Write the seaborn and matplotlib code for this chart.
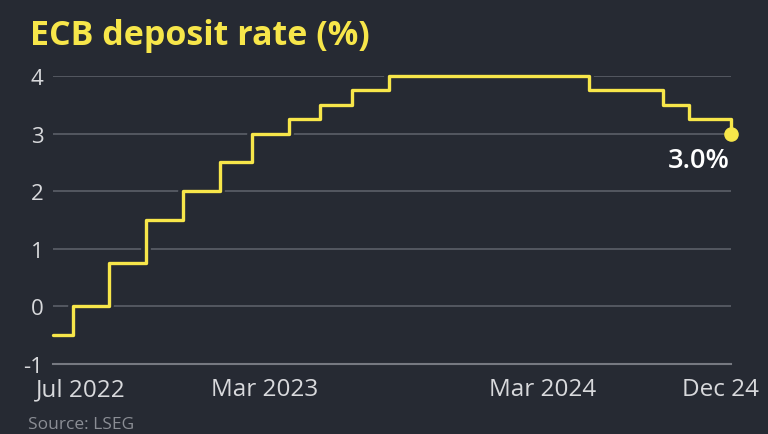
import matplotlib
matplotlib.use('Agg')
import matplotlib.pyplot as plt
import matplotlib.dates as mdates
import matplotlib.patheffects as pe
import matplotlib.transforms as mtransforms
import seaborn as sns
import pandas as pd

# ECB deposit facility rate, dates of change
change_dates = ['2022-07-01', '2022-07-27', '2022-09-14', '2022-11-02', '2022-12-21',
                '2023-02-08', '2023-03-22', '2023-05-10', '2023-06-21', '2023-08-02',
                '2023-09-20', '2024-06-12', '2024-09-18', '2024-10-23', '2024-12-18']
rates = [-0.5, 0.0, 0.75, 1.5, 2.0, 2.5, 3.0, 3.25, 3.5, 3.75, 4.0, 3.75, 3.5, 3.25, 3.0]
tick_dates = ['2022-07-01', '2023-03-01', '2024-03-01', '2024-12-01']
tick_labels = ['Jul 2022', 'Mar 2023', 'Mar 2024', 'Dec 24']
y_ticks = [-1, 0, 1, 2, 3, 4]

df = pd.DataFrame({'date': pd.to_datetime(change_dates), 'rate': rates})

bg = '#262a33'
yellow = '#f7e64a'
grid_c = '#5c5f68'
text_c = '#d8d9dc'

sns.set_style('dark')
plt.rcParams['font.family'] = ['Open Sans', 'DejaVu Sans']

fig = plt.figure(figsize=(7.68, 4.35), dpi=100, facecolor=bg)
ax = fig.add_axes([53/768, 1 - 365/435, (731 - 53)/768, (365 - 77)/435])
ax.set_facecolor(bg)

for y in y_ticks[1:]:
    ax.axhline(y, color=grid_c, lw=1.2, zorder=1)

sns.lineplot(data=df, x='date', y='rate', drawstyle='steps-post', color=yellow,
             lw=2.4, ax=ax, zorder=3, clip_on=False,
             path_effects=[pe.Stroke(linewidth=7, foreground=bg), pe.Normal()])
last = df.iloc[-1]
ax.scatter([last['date']], [last['rate']], s=90, color=yellow, zorder=4, clip_on=False)
ax.annotate(f"{last['rate']:.1f}%", (last['date'], last['rate']), xytext=(-1, -9),
            textcoords='offset points', ha='right', va='top', color='white',
            fontsize=19.5, fontweight='semibold')

ax.set_xlim(pd.Timestamp(change_dates[0]), pd.Timestamp(change_dates[-1]))
ax.set_ylim(-1, 4)
ax.set_yticks(y_ticks)
ax.set_yticklabels([str(v) for v in y_ticks])
ax.tick_params(axis='y', length=0, pad=7, labelsize=16, labelcolor=text_c)

months = list(pd.date_range('2022-07-01', '2024-12-01', freq='MS')) + [pd.Timestamp(change_dates[-1])]
ax.xaxis.set_minor_locator(matplotlib.ticker.FixedLocator(mdates.date2num(months)))
ax.set_xticks(pd.to_datetime(tick_dates))
ax.set_xticklabels(tick_labels)
ax.tick_params(axis='x', which='both', length=7, width=1.2, color='#767981',
               labelsize=17.5, labelcolor=text_c, pad=2.5, direction='out')
shifts = [28, 29, 31, 2]
for lab, dx in zip(ax.get_xticklabels(), shifts):
    lab.set_transform(lab.get_transform() + mtransforms.ScaledTranslation(dx/100, 0, fig.dpi_scale_trans))

for s in ['top', 'right', 'left']:
    ax.spines[s].set_visible(False)
ax.spines['bottom'].set_color('#767981')
ax.spines['bottom'].set_linewidth(1.5)
ax.set_xlabel('')
ax.set_ylabel('')
ax.grid(False)

fig.text(30/768, 1 - 45/435, 'ECB deposit rate (%)', color=yellow, fontsize=24.5,
         fontweight='bold', ha='left', va='baseline')
fig.text(28/768, 1 - 429/435, 'Source: LSEG', color='#8b8e95', fontsize=12.5,
         ha='left', va='baseline')

fig.savefig('out.png', dpi=100, facecolor=bg)
